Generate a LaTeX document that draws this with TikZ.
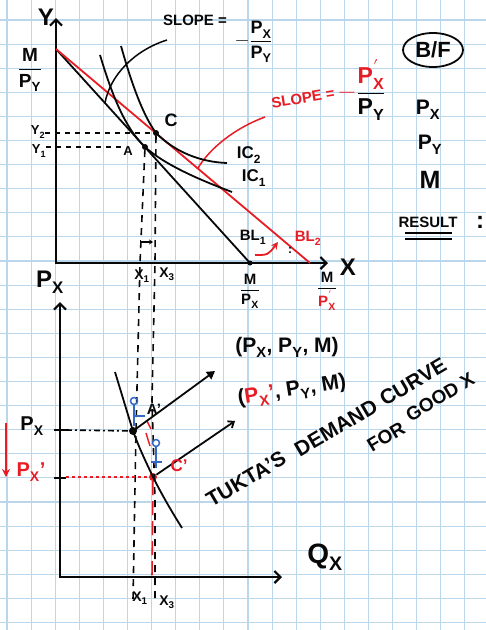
\documentclass[tikz,border=0pt]{standalone}
\usepackage{amsmath}
\usepackage{unicode-math}
\setmainfont{Liberation Sans}
\usetikzlibrary{arrows.meta,shapes.geometric}
\definecolor{gridblue}{RGB}{186,214,234}
\definecolor{pen}{RGB}{8,8,8}
\definecolor{rd}{RGB}{232,28,36}
\definecolor{bl}{RGB}{52,104,196}
\tikzset{
  hw/.style={font=\fontsize{#1}{#1}\selectfont\bfseries, inner sep=0pt, text=pen},
  gridc/.style={draw=gridblue, line width=1.1pt},
  axis/.style={draw=pen, line width=2.2pt},
  curve/.style={draw=pen, line width=1.8pt},
  redl/.style={draw=rd, line width=1.8pt},
  dsh/.style={draw=pen, line width=1.6pt, dash pattern=on 7pt off 6pt},
  dotn/.style={circle, fill=pen, inner sep=0pt, minimum size=6pt},
  fig/.style={draw=bl, line width=1.5pt},
  barbtip/.tip={Straight Barb[length=6pt,width=12pt]},
}
\newcommand{\hfrac}[2]{$\dfrac{\text{#1}}{\text{#2}}$}
\begin{document}
\begin{tikzpicture}[x=1pt,y=-1pt]
\useasboundingbox (0,0) rectangle (486,630);
\fill[white] (0,0) rectangle (486,630);
% grid paper
\foreach \i in {0,...,20} {\draw[gridc] ({7+24.1*\i},0) -- ({7+24.1*\i},630);}
\foreach \i in {0,...,25} {\draw[gridc] (0,{20+24.1*\i}) -- (486,{20+24.1*\i});}

% ---------- upper graph ----------
\coordinate (O1) at (56,263);
\coordinate (Yt) at (56,18);
\coordinate (Xt) at (328,263);
\draw[axis, barbtip-barbtip] (Yt) -- (O1) -- (Xt);
\node[hw=24] (ylab) at (46,17) {Y};
\node[hw=24] (xlab) at (348,267) {X};

\coordinate (MY) at (56,49);
\coordinate (MPx) at (250,263);
\coordinate (MPx2) at (310,263);
\draw[curve] (MY) -- (MPx);
\draw[redl] (MY) -- (MPx2);
\node[dotn, minimum size=5pt] (mpxdot) at (MPx) {};

\node[hw=19] (fMY) at (30,70) {\hfrac{M}{P\textsubscript{Y}}};

% slope labels
\node[hw=15] (slope1) at (195,20) {SLOPE =};
\node[hw=18] (sfr1) at (254,42) {$-\dfrac{\text{P}_\text{X}}{\text{P}_\text{Y}}$};
\coordinate (p1s) at (167,40);
\coordinate (p1) at (105,103);
\draw[curve, line width=1.5pt] (p1s) .. controls (135,50) and (110,75) .. (p1);

\node[hw=15, text=rd, rotate=9] (slope2) at (303,98) {SLOPE =};
\node[hw=23] (sfr2) at (362,90) {$\textcolor{rd}{-}\dfrac{\textcolor{rd}{\text{P}_\text{X}'}}{\text{P}_\text{Y}}$};
\coordinate (p2s) at (265,117);
\coordinate (p2) at (198,168);
\draw[redl, line width=1.5pt] (p2s) .. controls (235,128) and (210,148) .. (p2);

% right column
\node[hw=22, draw=pen, line width=1.8pt, ellipse, minimum width=60pt, minimum height=34pt, inner sep=0pt] (bf) at (433,50) {B/F};
\node[hw=21] (rpx) at (428,110) {P\textsubscript{X}};
\node[hw=21] (rpy) at (430,145) {P\textsubscript{Y}};
\node[hw=25] (rm) at (430,180) {M};
\node[hw=15] (res) at (428,222) {RESULT};
\draw[line width=1.8pt] (405,233) -- (452,233);
\draw[line width=1.8pt] (405,239) -- (452,239);
\node[hw=24] (colon) at (480,222) {:};

% points C and A
\node[dotn] (C) at (156,133) {};
\node[hw=18] (Clab) at (171,120) {C};
\node[dotn] (A) at (145,147) {};
\node[hw=13] (Alab) at (128,151) {A};
\node[hw=13] (y2) at (38,132) {Y\textsubscript{2}};
\node[hw=13] (y1) at (39,151) {Y\textsubscript{1}};
\draw[dsh, dash pattern=on 5pt off 5pt] (y2.east |- C) -- (C);
\draw[dsh, dash pattern=on 5pt off 5pt] (y1.east |- A) -- (Alab.west |- A);

% indifference curves
\draw[curve] (100,55) .. controls (112,95) and (125,128) .. (A.center) .. controls (165,165) and (200,180) .. (232,192);
\draw[curve] (121,46) .. controls (132,85) and (143,115) .. (C.center) .. controls (175,152) and (200,162) .. (227,163);
\node[hw=17] (ic2) at (249,155) {IC\textsubscript{2}};
\node[hw=17] (ic1) at (254,178) {IC\textsubscript{1}};

% budget line labels
\node[hw=15] (bl1) at (253,237) {BL\textsubscript{1}};
\node[hw=15, text=rd] (bl2) at (308,238) {BL\textsubscript{2}};
\coordinate (ra1) at (255,255);
\coordinate (ra2) at (278,242);
\draw[redl, -{Stealth[length=7pt,width=7pt]}] (ra1) .. controls (268,255) .. (ra2);
\node[hw=12] (dd) at (290,250) {:};

\node[hw=15] (fmpx) at (250,291) {\hfrac{M}{P\textsubscript{X}}};
\node[hw=15] (fmpx2) at (327,291) {$\dfrac{\text{M}}{\textcolor{rd}{\text{P}_\text{X}'}}$};

\node[hw=14] (x1u) at (142,276) {X\textsubscript{1}};
\node[hw=14] (x3u) at (167,274) {X\textsubscript{3}};
\coordinate (sa1) at (140,242);
\coordinate (sa2) at (153,242);
\draw[line width=1.3pt, {Bar[width=5pt]}-{Stealth[length=4pt,width=5pt]}] (sa1) -- (sa2);

% ---------- lower graph ----------
\coordinate (O2) at (60,577);
\coordinate (Pt) at (60,302);
\coordinate (Qt) at (282,577);
\draw[axis, barbtip-barbtip] (Pt) -- (O2) -- (Qt);
\node[hw=24] (pxax) at (50,282) {P\textsubscript{X}};
\node[hw=28] (qx) at (325,557) {Q\textsubscript{X}};

\draw[axis, line width=1.8pt] (54,430) -- (66,430);
\draw[axis, line width=1.8pt] (54,478) -- (66,478);

\node[dotn, minimum size=8pt] (Ap) at (133,431) {};
\node[circle, fill=rd, inner sep=0pt, minimum size=8pt] (Cp) at (153,477) {};

% vertical dashed guides
\draw[dsh] (A) -- (140,263) -- (136,430) -- (133,600);
\draw[dsh] (C) -- (155,263) -- (152,400) -- (155,500) -- (155,598);
\draw[draw=rd, line width=1.6pt, dash pattern=on 14pt off 6pt] (Cp) -- (152,578);

% demand curve
\draw[curve] (115,372) .. controls (122,395) and (128,415) .. (Ap.center) .. controls (140,450) and (146,462) .. (Cp.center) .. controls (162,495) and (172,512) .. (182,528);

\node[hw=20] (pxl) at (32,426) {P\textsubscript{X}};
\node[hw=20, text=rd] (pxl2) at (31,472) {P\textsubscript{X}'};
\draw[line width=1.6pt, dash pattern=on 6pt off 3pt on 2pt off 3pt] (66,430) -- (Ap);
\draw[draw=rd, line width=1.6pt, dash pattern=on 3pt off 3pt] (66,477) -- (Cp);
\coordinate (rdA) at (6,423);
\coordinate (rdB) at (6,477);
\draw[redl, -{Stealth[length=8pt,width=8pt]}] (rdA) -- (rdB);

% blue figures
\draw[fig] (134,401) circle (3.5);
\draw[fig] (134,405) -- (134,426);
\draw[fig] (133,416) -- (145,416);
\draw[fig] (156,443) circle (3.5);
\draw[fig] (156,447) -- (156,468);
\draw[fig] (151,462) -- (162,462);

% red small marks
\draw[redl, line width=1.4pt] (146,433) -- (150,446);
\draw[redl, line width=1.4pt] (147,421) -- (151,429);

% labels and arrows
\node[hw=21] (lab1) at (287,347) {(P\textsubscript{X}, P\textsubscript{Y}, M)};
\node[hw=21, rotate=9] (lab2) at (292,391) {(\textcolor{rd}{P\textsubscript{X}'}, P\textsubscript{Y}, M)};
\coordinate (a1e) at (215,371);
\coordinate (a2e) at (235,421);
\draw[curve, -{Triangle[length=8pt,width=9pt]}] (Ap) -- (a1e);
\draw[curve, -{Straight Barb[length=5pt,width=8pt]}] (Cp) -- (a2e);
\node[hw=15] (Aplab) at (154,409) {A'};
\node[hw=17, text=rd] (Cplab) at (179,466) {C'};

\node[hw=21, rotate=30.5] (dem1) at (246,479) {TUKTA'S};
\node[hw=21, rotate=30.5] (dem2) at (336,428) {DEMAND};
\node[hw=21, rotate=30.5] (dem3) at (413,382) {CURVE};
\node[hw=19, rotate=31] (dem4) at (386,437) {FOR};
\node[hw=19, rotate=31] (dem5) at (440,397) {GOOD X};

\node[hw=14] (x1l) at (140,598) {X\textsubscript{1}};
\node[hw=14] (x3l) at (167,602) {X\textsubscript{3}};
\end{tikzpicture}
\end{document}
